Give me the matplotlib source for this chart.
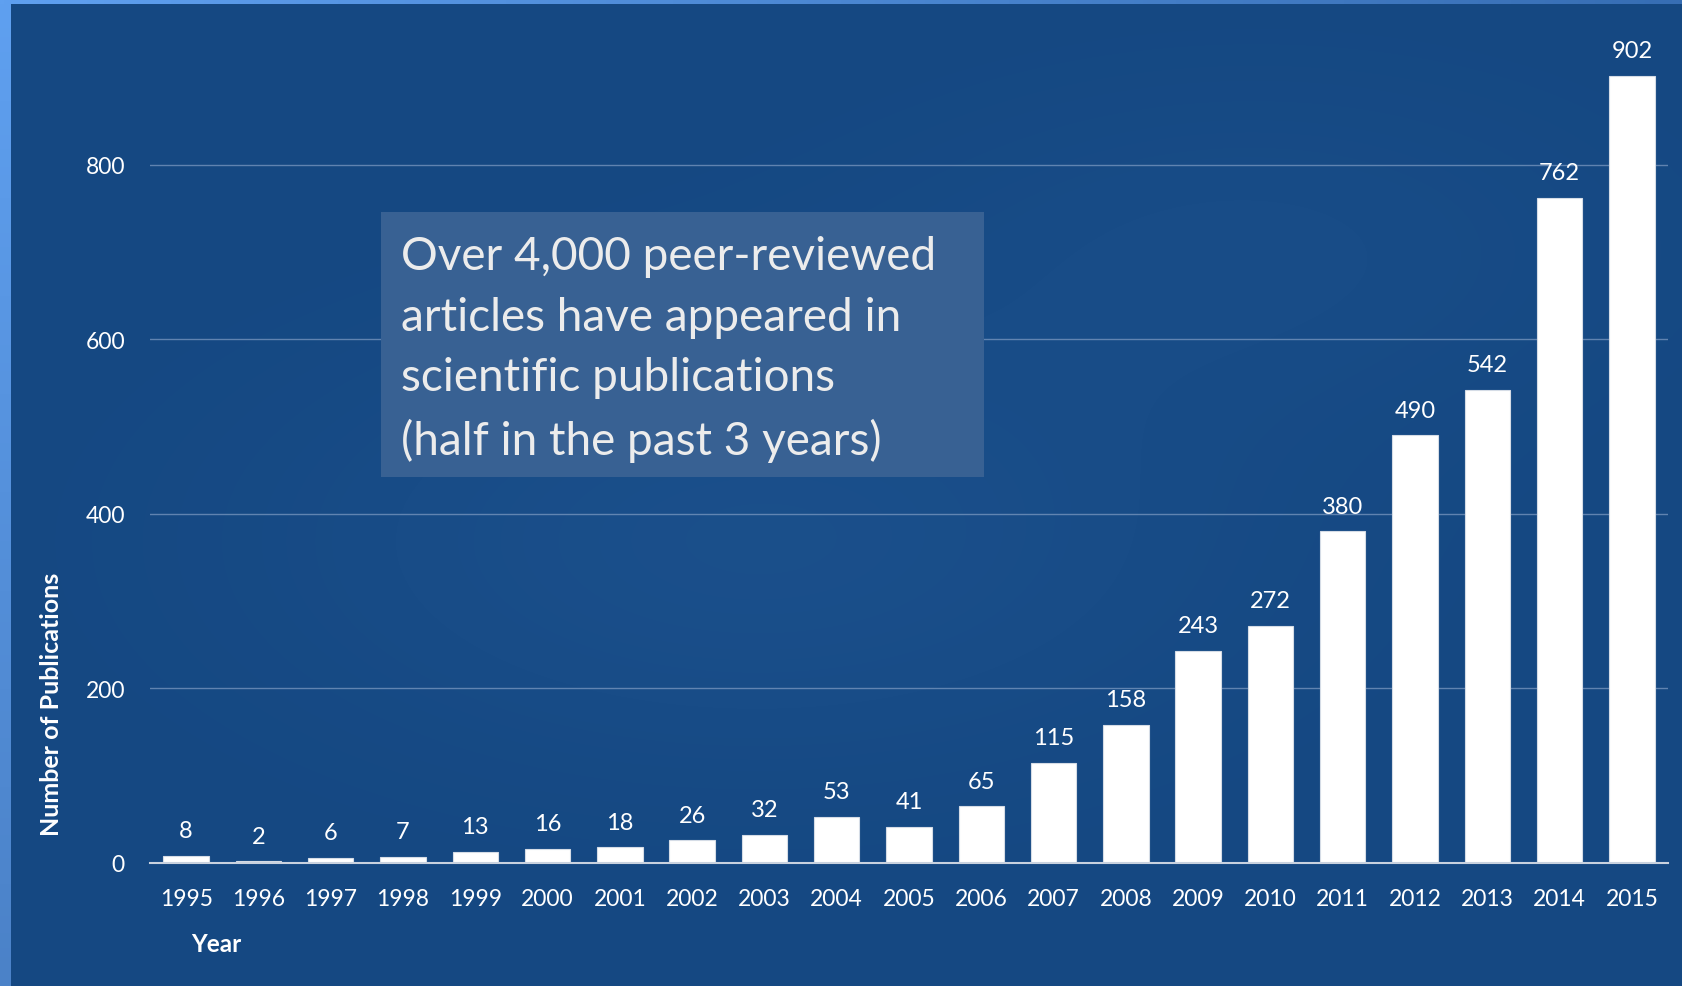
import numpy as np
import matplotlib
matplotlib.use("Agg")
import matplotlib.pyplot as plt

# Publication counts per year
years = ["1995", "1996", "1997", "1998", "1999", "2000", "2001", "2002", "2003", "2004", "2005",
         "2006", "2007", "2008", "2009", "2010", "2011", "2012", "2013", "2014", "2015"]
counts = [8, 2, 6, 7, 13, 16, 18, 26, 32, 53, 41, 65, 115, 158, 243, 272, 380, 490, 542, 762, 902]
y_ticks = [0, 200, 400, 600, 800]
note_text = ("Over 4,000 peer-reviewed\n"
             "articles have appeared in\n"
             "scientific publications\n"
             "(half in the past 3 years)")

plt.rcParams["font.family"] = ["Lato", "DejaVu Sans"]

W, H, DPI = 1682, 987, 100
fig = plt.figure(figsize=(W / DPI, H / DPI), dpi=DPI)
fig.patch.set_facecolor("#164a84")

# Slide backdrop: deep blue with soft light patches
bg = fig.add_axes([0, 0, 1, 1], zorder=-10)
yy, xx = np.mgrid[0:1:200j, 0:1:340j]
base = np.array([21, 72, 130]) / 255.0
glow = (0.035 * np.exp(-((xx - 0.45) ** 2 / 0.08 + (yy - 0.55) ** 2 / 0.05))
        + 0.02 * np.exp(-((xx - 0.75) ** 2 / 0.05 + (yy - 0.25) ** 2 / 0.03)))
img = np.clip(base[None, None, :] + glow[..., None] * np.array([0.6, 0.8, 1.0]), 0, 1)
bg.imshow(img, aspect="auto", extent=[0, 1, 0, 1], origin="upper", interpolation="bicubic")
bg.axis("off")

# Light frame strips on the left and top edges
left = fig.add_axes([0, 0, 11 / W, 1], zorder=-5)
lg = np.linspace(0, 1, 100)[:, None]
c_top = np.array([95, 160, 240]) / 255.0
c_bot = np.array([75, 130, 200]) / 255.0
left.imshow((c_top * (1 - lg) + c_bot * lg)[:, None, :].repeat(4, axis=1),
            aspect="auto", extent=[0, 1, 0, 1])
left.axis("off")
top = fig.add_axes([0, 1 - 5 / H, 1, 5 / H], zorder=-5)
tg = np.linspace(0, 1, 200)[:, None]
c_l = np.array([95, 160, 240]) / 255.0
c_r = np.array([55, 110, 180]) / 255.0
top.imshow((c_l * (1 - tg) + c_r * tg)[None, :, :].repeat(4, axis=0),
           aspect="auto", extent=[0, 1, 0, 1])
top.axis("off")

# Bar chart
ax = fig.add_axes([150 / W, 1 - 864 / H, 1518 / W, 863.8 / H])
ax.set_facecolor("none")
x = np.arange(len(years))
ax.bar(x, counts, width=0.63, color="white", edgecolor="#d5dce6", linewidth=0.8, zorder=3)
ax.set_xlim(-0.5, len(years) - 0.5)
ax.set_ylim(0, 990)

for xi, v in zip(x, counts):
    ax.annotate(str(v), (xi, v), xytext=(0, 13.5), textcoords="offset points",
                ha="center", va="baseline", color="white", fontsize=17)

ax.set_yticks(y_ticks)
ax.set_yticklabels([str(t) for t in y_ticks])
ax.set_xticks(x)
ax.set_xticklabels(years)
ax.tick_params(axis="both", length=0, colors="white", labelsize=16.5)
ax.tick_params(axis="y", pad=18)
ax.tick_params(axis="x", pad=18)
ax.yaxis.grid(True, color="#7a98c0", linewidth=1, alpha=0.75, zorder=0)
ax.set_axisbelow(True)
for side in ["top", "right", "left"]:
    ax.spines[side].set_visible(False)
ax.spines["bottom"].set_color("#c9d2df")
ax.spines["bottom"].set_linewidth(1.5)
ax.spines["bottom"].set_zorder(4)

fig.text(216 / W, 1 - 945 / H, "Year", ha="center", va="center",
         color="white", fontsize=17.5, fontweight="bold")
fig.text(52 / W, 1 - 704 / H, "Number of Publications", ha="center", va="center",
         rotation=90, color="white", fontsize=18, fontweight="bold")

# Callout box
fig.patches.append(plt.Rectangle((381 / W, 1 - 478 / H), 603 / W, 265 / H,
                                 transform=fig.transFigure, facecolor="#386193",
                                 edgecolor="none", zorder=5))
fig.text(401 / W, 1 - 349.5 / H, note_text, ha="left", va="center",
         color="#ececec", fontsize=33, linespacing=1.54, zorder=6)

fig.savefig("out.png", dpi=DPI, facecolor=fig.get_facecolor())
